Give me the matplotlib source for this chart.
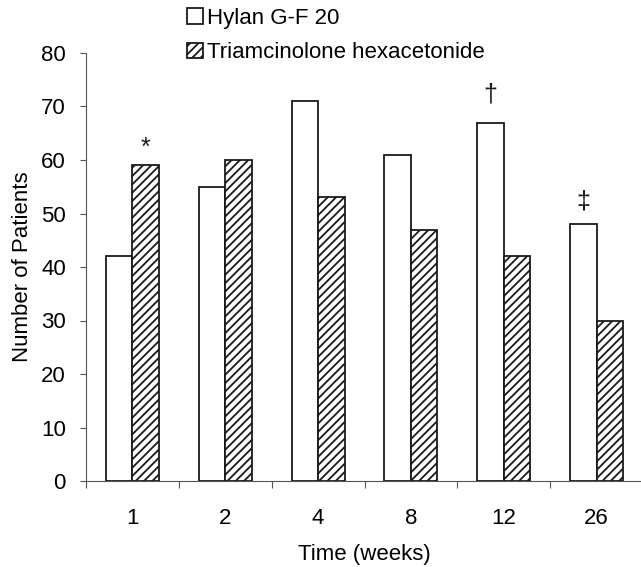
import matplotlib.pyplot as plt
import numpy as np

plt.rcParams['font.family'] = ['Liberation Sans', 'DejaVu Sans']
plt.rcParams['hatch.linewidth'] = 1.3

weeks = ["1", "2", "4", "8", "12", "26"]
hylan = [42, 55, 71, 61, 67, 48]
triam = [59, 60, 53, 47, 42, 30]
marks = ["*", "", "", "", "\u2020", "\u2021"]
mark_series = [1, 0, 0, 0, 0, 0]   # 0 = Hylan bar, 1 = Triamcinolone bar
mark_y = [62.3, 0, 0, 0, 72.2, 52.3]

W, H = 641, 567
fig = plt.figure(figsize=(W / 100, H / 100), dpi=100)
fig.set_facecolor("white")
ax = fig.add_axes([86 / W, (H - 481) / H, 557 / W, 428 / H])

x = np.arange(len(weeks))
bw = 0.285
b1 = ax.bar(x - bw / 2, hylan, bw, color="white", edgecolor="#1a1a1a",
            linewidth=1.3, label="Hylan G-F 20", zorder=2)
b2 = ax.bar(x + bw / 2, triam, bw, color="white", edgecolor="#1a1a1a",
            linewidth=1.3, hatch="////", label="Triamcinolone hexacetonide", zorder=2)

for i, m in enumerate(marks):
    if m:
        xi = x[i] - bw / 2 if mark_series[i] == 0 else x[i] + bw / 2
        ax.text(xi, mark_y[i], m, ha="center", va="center", fontsize=18, color="#1a1a1a")

ax.set_xlim(-0.5, len(weeks) - 0.5)
ax.set_ylim(0, 80)
ax.set_yticks(range(0, 81, 10))
ax.set_xticks(x)
ax.set_xticklabels(weeks)
ax.set_xticks(np.arange(-0.5, len(weeks), 1.0), minor=True)
ax.tick_params(axis="x", which="major", length=0, pad=19.5, labelsize=16)
ax.tick_params(axis="x", which="minor", length=5, width=0.8, color="#555555")
ax.tick_params(axis="y", length=4, width=0.8, color="#555555", pad=10.5, labelsize=16)

for s in ["top", "right"]:
    ax.spines[s].set_visible(False)
for s in ["left", "bottom"]:
    ax.spines[s].set_linewidth(0.8)
    ax.spines[s].set_color("#555555")

ax.set_xlabel("Time (weeks)", fontsize=16, labelpad=11)
ax.set_ylabel("Number of Patients", fontsize=16, labelpad=6)

fig.legend(handles=[b1, b2], loc="upper left", bbox_to_anchor=(187 / W, 1 - 8 / H),
           frameon=False, fontsize=16, handlelength=0.7, handleheight=0.7,
           handletextpad=0.2, labelspacing=0.6, borderpad=0, borderaxespad=0)

plt.savefig("out.png", dpi=100)
